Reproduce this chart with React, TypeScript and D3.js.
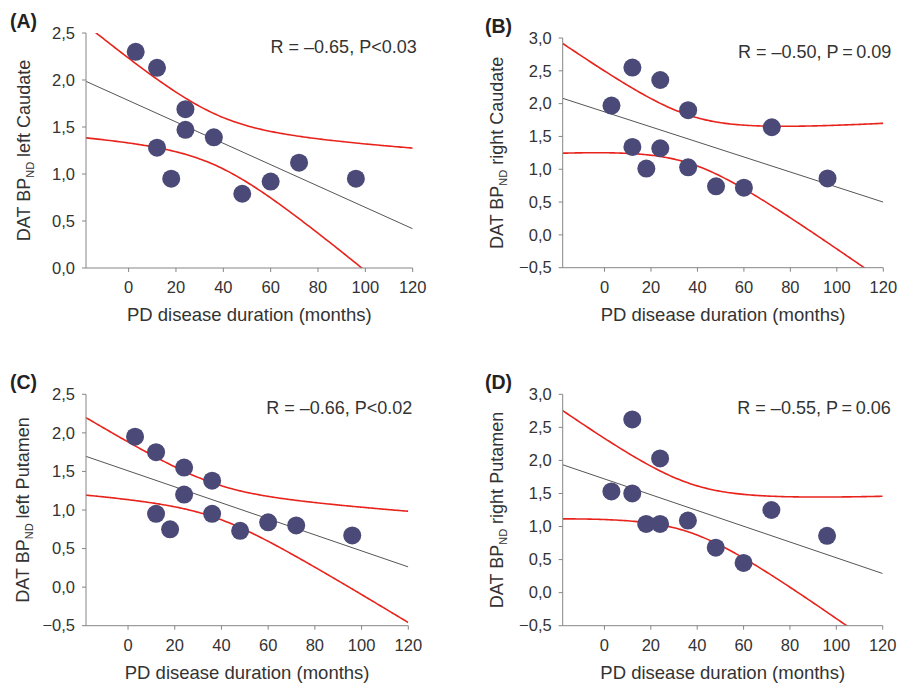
import * as d3 from "d3"

// disease duration (months) and DAT BPnd per panel
const durA = [3, 12, 12, 18, 24, 24, 36, 48, 60, 72, 96]
const bpA = [2.3, 2.13, 1.28, 0.95, 1.69, 1.47, 1.39, 0.79, 0.92, 1.12, 0.95]
const durB = [3, 12, 12, 18, 24, 24, 36, 36, 48, 60, 72, 96]
const bpB = [1.97, 2.55, 1.34, 1.01, 2.36, 1.32, 1.9, 1.03, 0.74, 0.72, 1.64, 0.86]
const durC = [3, 12, 12, 18, 24, 24, 36, 36, 48, 60, 72, 96]
const bpC = [1.95, 1.75, 0.95, 0.75, 1.55, 1.2, 1.38, 0.95, 0.73, 0.84, 0.8, 0.67]
const durD = [3, 12, 12, 18, 24, 24, 36, 48, 60, 72, 96]
const bpD = [1.53, 2.62, 1.5, 1.04, 2.03, 1.04, 1.09, 0.68, 0.45, 1.25, 0.86]

const xTicks = [0, 20, 40, 60, 80, 100, 120]
const yTicksLeft = [0, 0.5, 1, 1.5, 2, 2.5]
const yTicksWide = [-0.5, 0, 0.5, 1, 1.5, 2, 2.5, 3]
const yTicksPut = [-0.5, 0, 0.5, 1, 1.5, 2, 2.5]

const tCrit = { 9: 2.262, 10: 2.228 }

const panels = [
  { id: "A", dur: durA, bp: bpA, yTicks: yTicksLeft, region: "left Caudate", stat: "R = \u20130.65, P<0.03",
    box: [86, 412.7, 33, 268], titleDx: 56, statDx: 4 },
  { id: "B", dur: durB, bp: bpB, yTicks: yTicksWide, region: "right Caudate", stat: "R = \u20130.50, P\u2009=\u20090.09",
    box: [562.7, 883.3, 38, 267.7], titleDx: 60, statDx: 8 },
  { id: "C", dur: durC, bp: bpC, yTicks: yTicksPut, region: "left Putamen", stat: "R = \u20130.66, P<0.02",
    box: [86, 408.3, 394.3, 625.7], titleDx: 57, statDx: 4 },
  { id: "D", dur: durD, bp: bpD, yTicks: yTicksWide, region: "right Putamen", stat: "R = \u20130.55, P\u2009=\u20090.06",
    box: [562.7, 882.7, 394.3, 625.7], titleDx: 60, statDx: 8 },
]

const font = "'Liberation Sans', Arial, sans-serif"
const axisColor = "#858585"
const fmt = (d) => d3.format(".1f")(d).replace(".", ",").replace("-", "\u2013")

// least squares line with 95% confidence band of the mean
function fit(xs, ys) {
  const n = xs.length
  const mx = d3.mean(xs)
  const my = d3.mean(ys)
  const sxx = d3.sum(xs, (x) => (x - mx) ** 2)
  const sxy = d3.sum(xs.map((x, i) => (x - mx) * (ys[i] - my)))
  const b = sxy / sxx
  const a = my - b * mx
  const s = Math.sqrt(d3.sum(xs.map((x, i) => (ys[i] - a - b * x) ** 2)) / (n - 2))
  const t = tCrit[n - 2]
  return { line: (x) => a + b * x, half: (x) => t * s * Math.sqrt(1 / n + (x - mx) ** 2 / sxx) }
}

const Panel = ({ p }) => {
  const [left, right, top, bottom] = p.box
  const x = d3.scaleLinear().domain([0, 120]).range([left + (right - left) * 18 / 138, right])
  const xMin = x.invert(left)
  const y = d3.scaleLinear().domain([p.yTicks[0], p.yTicks[p.yTicks.length - 1]]).range([bottom, top])
  const f = fit(p.dur, p.bp)
  const xs = d3.range(xMin, 120.01, 1)
  const line = d3.line().x((d) => x(d[0])).y((d) => y(d[1])).curve(d3.curveMonotoneX)
  const upper = line(xs.map((v) => [v, f.line(v) + f.half(v)]))
  const lower = line(xs.map((v) => [v, f.line(v) - f.half(v)]))
  const fitLine = line([xMin, 120].map((v) => [v, f.line(v)]))
  const clipId = "clip" + p.id
  const xMid = (left + right) / 2
  const yMid = (top + bottom) / 2
  const labelX = p.id === "A" || p.id === "C" ? 10 : 485

  return (
    <g fontFamily={font}>
      <defs>
        <clipPath id={clipId}>
          <rect x={left} y={top} width={right - left} height={bottom - top} />
        </clipPath>
      </defs>
      <text x={labelX} y={top - 5} fontSize={19.5} fontWeight="bold" fill="#222">({p.id})</text>
      <text x={right + p.statDx} y={top + 20} fontSize={18} textAnchor="end" fill="#333">{p.stat}</text>

      <g clipPath={`url(#${clipId})`}>
        <path d={fitLine} fill="none" stroke="#555" strokeWidth={1} />
        <path d={upper} fill="none" stroke="#e8231c" strokeWidth={1.6} />
        <path d={lower} fill="none" stroke="#e8231c" strokeWidth={1.6} />
      </g>

      {p.dur.map((d, i) => (
        <circle key={i} cx={x(d)} cy={y(p.bp[i])} r={9} fill="#4a4977" />
      ))}

      <line x1={left} x2={left} y1={bottom} y2={top} stroke={axisColor} />
      {p.yTicks.map((t) => (
        <g key={t}>
          <line x1={left - 4} x2={left} y1={y(t)} y2={y(t)} stroke={axisColor} />
          <text x={left - 11} y={y(t)} dy="0.35em" textAnchor="end" fontSize={16.5} fill="#333">{fmt(t)}</text>
        </g>
      ))}
      <line x1={left} x2={right} y1={bottom} y2={bottom} stroke={axisColor} />
      {xTicks.map((t) => (
        <g key={t}>
          <line x1={x(t)} x2={x(t)} y1={bottom} y2={bottom + 4} stroke={axisColor} />
          <text x={x(t)} y={bottom + 25} textAnchor="middle" fontSize={16.5} fill="#333">{t}</text>
        </g>
      ))}

      <text x={xMid} y={bottom + 53} textAnchor="middle" fontSize={18.5} fill="#333">PD disease duration (months)</text>
      <text transform={`translate(${left - p.titleDx},${yMid}) rotate(-90)`} textAnchor="middle" fontSize={18} fill="#333">
        DAT BP<tspan fontSize={11} dy={4}>ND</tspan><tspan dy={-4}> {p.region}</tspan>
      </text>
    </g>
  )
}

export default function App() {
  return (
    <svg width={899} height={684} style={{ position: "absolute", left: 0, top: 0, background: "#fff" }}>
      {panels.map((p) => (
        <Panel key={p.id} p={p} />
      ))}
    </svg>
  )
}
